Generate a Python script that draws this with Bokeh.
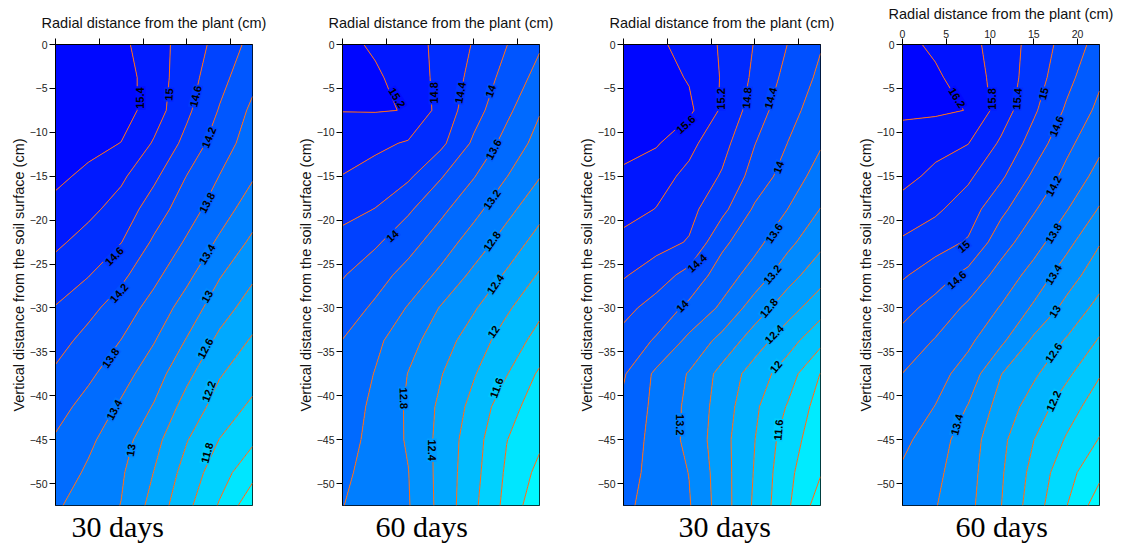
import numpy as np
from bokeh.plotting import figure
from bokeh.layouts import row
from bokeh.models import Range1d, FixedTicker, Title
from bokeh.embed import file_html
from bokeh.resources import INLINE
from bokeh.core.properties import value

# grid nodes (cm)
X_CM = [0, 3.75, 7.5, 11.25, 15, 18.75, 22.5]
Y_CM = [0, -3.75, -7.5, -11.25, -15, -18.75, -22.5, -26.25, -30, -33.75,
        -37.5, -41.25, -45, -48.75, -52.5]
X_TICKS = [0, 5, 10, 15, 20]
Y_TICKS = [0, -5, -10, -15, -20, -25, -30, -35, -40, -45, -50]

# ---- panel 1 : 30 days ----
P1_Z = [
    [15.65, 15.60, 15.49, 15.17, 14.83, 14.46, 14.08],
    [15.70, 15.66, 15.59, 15.20, 14.77, 14.33, 13.91],
    [15.70, 15.68, 15.60, 15.19, 14.68, 14.17, 13.72],
    [15.60, 15.55, 15.39, 14.96, 14.48, 13.99, 13.61],
    [15.51, 15.29, 15.07, 14.68, 14.19, 13.79, 13.44],
    [15.26, 15.10, 14.84, 14.40, 13.98, 13.59, 13.19],
    [15.08, 14.85, 14.61, 14.14, 13.75, 13.33, 12.92],
    [14.82, 14.62, 14.29, 13.90, 13.50, 13.03, 12.67],
    [14.58, 14.31, 14.01, 13.65, 13.22, 12.78, 12.41],
    [14.35, 14.07, 13.79, 13.42, 12.97, 12.50, 12.15],
    [14.14, 13.88, 13.56, 13.18, 12.70, 12.23, 11.97],
    [13.95, 13.66, 13.34, 12.97, 12.44, 12.04, 11.72],
    [13.76, 13.48, 13.16, 12.73, 12.22, 11.79, 11.47],
    [13.62, 13.34, 13.05, 12.59, 12.04, 11.57, 11.13],
    [13.45, 13.23, 12.99, 12.45, 11.90, 11.36, 10.72],
]
P1_LEVELS = [11.0, 11.4, 11.8, 12.2, 12.6, 13.0, 13.4, 13.8, 14.2, 14.6, 15.0, 15.4]
P1_LBL_X = [9.7, 12.95, 16.0, 17.5, 17.3, 17.3, 17.3, 17.1, 17.5, 17.3, 6.7, 7.25, 6.3, 6.7, 8.6]
P1_LBL_Y = [-6.1, -5.7, -5.9, -10.6, -18.0, -23.9, -28.7, -34.6, -39.5, -46.5, -24.1, -28.3, -35.7, -41.6, -46.2]
P1_LBL_V = [15.4, 15.0, 14.6, 14.2, 13.8, 13.4, 13.0, 12.6, 12.2, 11.8, 14.6, 14.2, 13.8, 13.4, 13.0]
P1_LBL_T = ["15.4", "15", "14.6", "14.2", "13.8", "13.4", "13", "12.6", "12.2", "11.8", "14.6", "14.2", "13.8", "13.4", "13"]
P1_LBL_A = [90, 86, 76, 68, 62, 58, 60, 62, 70, 75, 45, 48, 55, 62, 80]

# ---- panel 2 : 60 days ----
P2_Z = [
    [15.33, 15.13, 14.94, 14.71, 14.37, 14.01, 13.65],
    [15.45, 15.27, 15.00, 14.70, 14.27, 13.87, 13.46],
    [15.21, 15.22, 15.19, 14.65, 14.16, 13.69, 13.23],
    [14.99, 14.89, 14.76, 14.49, 13.93, 13.46, 13.06],
    [14.79, 14.64, 14.47, 14.03, 13.62, 13.21, 12.82],
    [14.53, 14.39, 14.06, 13.69, 13.32, 12.92, 12.53],
    [14.27, 14.06, 13.75, 13.40, 13.02, 12.63, 12.25],
    [14.03, 13.76, 13.46, 13.11, 12.71, 12.35, 11.96],
    [13.81, 13.53, 13.17, 12.77, 12.44, 12.06, 11.69],
    [13.59, 13.29, 12.94, 12.58, 12.20, 11.82, 11.46],
    [13.52, 13.18, 12.79, 12.42, 12.03, 11.62, 11.14],
    [13.44, 13.10, 12.75, 12.32, 11.88, 11.36, 10.99],
    [13.38, 13.06, 12.76, 12.28, 11.77, 11.21, 10.88],
    [13.28, 13.04, 12.81, 12.27, 11.73, 11.14, 10.69],
    [13.21, 13.02, 12.83, 12.28, 11.68, 11.08, 10.51],
]
P2_LEVELS = [10.8, 11.2, 11.6, 12.0, 12.4, 12.8, 13.2, 13.6, 14.0, 14.4, 14.8, 15.2]
P2_LBL_X = [6.24, 10.4, 13.45, 16.9, 17.25, 17.07, 17.07, 17.45, 17.25, 17.6, 5.7, 7.0, 10.2]
P2_LBL_Y = [-6.07, -5.5, -5.5, -5.3, -11.95, -17.65, -22.4, -27.3, -32.7, -39.1, -21.8, -40.3, -46.2]
P2_LBL_V = [15.2, 14.8, 14.4, 14.0, 13.6, 13.2, 12.8, 12.4, 12.0, 11.6, 14.0, 12.8, 12.4]
P2_LBL_T = ["15.2", "14.8", "14.4", "14", "13.6", "13.2", "12.8", "12.4", "12", "11.6", "14", "12.8", "12.4"]
P2_LBL_A = [-58, 90, 80, 70, 62, 55, 55, 55, 55, 70, 42, -88, -90]

# ---- panel 3 : 30 days ----
P3_Z = [
    [15.85, 15.69, 15.43, 15.16, 14.78, 14.395, 14.03],
    [15.85, 15.75, 15.57, 15.17, 14.72, 14.28, 13.92],
    [15.80, 15.72, 15.68, 15.14, 14.60, 14.14, 13.80],
    [15.73, 15.64, 15.30, 14.94, 14.41, 13.995, 13.64],
    [15.53, 15.34, 15.11, 14.76, 14.24, 13.82, 13.44],
    [15.33, 15.19, 14.92, 14.51, 13.94, 13.598, 13.19],
    [15.10, 14.95, 14.77, 14.09, 13.72, 13.31, 12.90],
    [14.84, 14.59, 14.27, 13.81, 13.43, 12.96, 12.56],
    [14.52, 14.24, 13.91, 13.53, 13.01, 12.57, 12.16],
    [14.26, 13.95, 13.50, 13.07, 12.59, 12.16, 11.71],
    [14.04, 13.52, 13.17, 12.67, 12.22, 11.79, 11.19],
    [13.92, 13.49, 13.11, 12.61, 12.07, 11.57, 11.02],
    [13.82, 13.47, 13.10, 12.55, 12.005, 11.39, 10.95],
    [13.75, 13.47, 13.19, 12.58, 11.97, 11.30, 10.83],
    [13.68, 13.45, 13.23, 12.60, 11.93, 11.26, 10.59],
]
P3_LEVELS = [10.8, 11.2, 11.6, 12.0, 12.4, 12.8, 13.2, 13.6, 14.0, 14.4, 14.8, 15.2, 15.6]
P3_LBL_X = [7.1, 11.1, 14.1, 16.8, 17.7, 17.2, 17.0, 16.6, 17.2, 17.4, 8.4, 6.7, 6.5, 17.7]
P3_LBL_Y = [-9.1, -6.2, -6.1, -6.1, -14.0, -21.5, -26.2, -30.0, -33.0, -36.7, -24.9, -29.8, -43.3, -43.9]
P3_LBL_V = [15.6, 15.2, 14.8, 14.4, 14.0, 13.6, 13.2, 12.8, 12.4, 12.0, 14.4, 14.0, 13.2, 11.6]
P3_LBL_T = ["15.6", "15.2", "14.8", "14.4", "14", "13.6", "13.2", "12.8", "12.4", "12", "14.4", "14", "13.2", "11.6"]
P3_LBL_A = [42, 90, 85, 75, 70, 55, 50, 50, 45, 50, 42, 45, -90, 85]

# ---- panel 4 : 60 days ----
P4_Z = [
    [16.32, 16.12, 15.91, 15.64, 15.25, 14.84, 14.45],
    [16.40, 16.27, 15.99, 15.65, 15.19, 14.72, 14.27],
    [16.26, 16.26, 16.19, 15.61, 15.06, 14.54, 14.10],
    [16.06, 15.94, 15.81, 15.34, 14.83, 14.30, 13.90],
    [15.93, 15.70, 15.47, 15.07, 14.52, 14.09, 13.66],
    [15.63, 15.47, 15.20, 14.70, 14.24, 13.82, 13.37],
    [15.35, 15.17, 14.96, 14.37, 13.96, 13.52, 13.03],
    [15.05, 14.79, 14.48, 14.05, 13.65, 13.19, 12.77],
    [14.73, 14.46, 14.12, 13.77, 13.34, 12.88, 12.47],
    [14.46, 14.17, 13.88, 13.48, 12.92, 12.56, 12.16],
    [14.195, 13.95, 13.63, 13.01, 12.66, 12.28, 11.83],
    [14.04, 13.79, 13.38, 12.84, 12.42, 11.98, 11.59],
    [13.90, 13.58, 13.20, 12.70, 12.204, 11.76, 11.38],
    [13.74, 13.49, 13.15, 12.65, 12.07, 11.54, 11.10],
    [13.65, 13.42, 13.11, 12.61, 11.99, 11.41, 10.78],
]
P4_LEVELS = [11.0, 11.4, 11.8, 12.2, 12.6, 13.0, 13.4, 13.8, 14.2, 14.6, 15.0, 15.4, 15.8, 16.2]
P4_LBL_X = [6.24, 10.2, 13.1, 16.1, 17.6, 17.25, 17.25, 17.25, 17.4, 7.0, 6.2, 17.25, 17.25, 6.2]
P4_LBL_Y = [-6.07, -6.2, -6.2, -5.6, -9.3, -16.1, -21.5, -26.2, -30.4, -23.0, -26.8, -35.1, -40.6, -43.3]
P4_LBL_V = [16.2, 15.8, 15.4, 15.0, 14.6, 14.2, 13.8, 13.4, 13.0, 15.0, 14.6, 12.6, 12.2, 13.4]
P4_LBL_T = ["16.2", "15.8", "15.4", "15", "14.6", "14.2", "13.8", "13.4", "13", "15", "14.6", "12.6", "12.2", "13.4"]
P4_LBL_A = [-58, 90, 85, 75, 68, 62, 58, 58, 58, 40, 42, 55, 65, 75]

CAPTIONS = ["30 days", "60 days", "30 days", "60 days"]

SANS = "Liberation Sans"


def color_at(v, zmin, zmax):
    frac = (zmax - v) / (zmax - zmin)
    g = int(round(255 * min(max(frac, 0), 1)))
    return "#00%02xff" % g


def band_colors(levels, zmin, zmax):
    cols = []
    for a, b in zip(levels[:-1], levels[1:]):
        mid = (max(a, zmin) + min(b, zmax)) / 2.0
        cols.append(color_at(mid, zmin, zmax))
    return cols


def make_panel(zrows, levels, lx, ly, lv_vals, lt, la, caption, cap_offset, border_right, top_labels):
    p = figure(frame_width=197, frame_height=461,
               x_range=Range1d(0, 22.5), y_range=Range1d(-52.5, 0),
               x_axis_location="above", toolbar_location=None, output_backend="svg",
               min_border_left=55, min_border_right=border_right,
               min_border_top=44, min_border_bottom=46,
               background_fill_color="white", border_fill_color="white")
    p.grid.visible = False
    p.outline_line_color = "black"
    p.outline_line_width = 1

    z = np.array(zrows, dtype=float)[::-1]
    y = np.array(Y_CM, dtype=float)[::-1]
    zmin, zmax = float(z.min()), float(z.max())
    lv = [zmin - 1.0] + list(levels) + [zmax + 1.0]
    p.contour(x=np.array(X_CM, dtype=float), y=y, z=z, levels=lv,
              fill_color=band_colors(lv, zmin, zmax),
              line_color="#ff6a10", line_width=1)

    bg = [color_at(v, zmin, zmax) for v in lv_vals]
    p.text(x=lx, y=ly, text=lt, angle=la, angle_units="deg",
           text_font=value(SANS), text_font_style="bold", text_font_size="11px",
           text_align="center", text_baseline="middle", text_color="black",
           background_fill_color=bg, padding=1)

    xa = p.xaxis[0]
    xa.ticker = FixedTicker(ticks=X_TICKS)
    xa.axis_label = "Radial distance from the plant (cm)"
    xa.axis_label_text_font = SANS
    xa.axis_label_text_font_size = "14.5px"
    xa.axis_label_text_font_style = "normal"
    xa.axis_label_text_color = "#111111"
    xa.major_tick_out = 6
    xa.major_tick_in = 0
    xa.minor_tick_line_color = None
    xa.axis_line_color = "black"
    xa.major_tick_line_color = "black"
    xa.major_label_text_font = SANS
    xa.major_label_text_font_size = "10.5px"
    xa.major_label_text_color = "#222222"
    if top_labels:
        xa.major_label_standoff = 1
        xa.axis_label_standoff = 5
    else:
        xa.major_label_overrides = {t: "" for t in X_TICKS}
        xa.major_label_standoff = 0
        xa.axis_label_standoff = 8

    ya = p.yaxis[0]
    ya.ticker = FixedTicker(ticks=Y_TICKS)
    ya.axis_label = "Vertical distance from the soil surface (cm)"
    ya.axis_label_text_font = SANS
    ya.axis_label_text_font_size = "14.5px"
    ya.axis_label_text_font_style = "normal"
    ya.axis_label_text_color = "#111111"
    ya.axis_label_standoff = 0
    ya.major_tick_out = 6
    ya.major_tick_in = 0
    ya.minor_tick_line_color = None
    ya.axis_line_color = "black"
    ya.major_tick_line_color = "black"
    ya.major_label_text_font = SANS
    ya.major_label_text_font_size = "10.5px"
    ya.major_label_text_color = "#222222"
    ya.major_label_standoff = 2

    p.add_layout(Title(text=caption, align="left", offset=cap_offset,
                       text_font="Liberation Serif", text_font_size="30px",
                       text_font_style="normal", text_color="black", standoff=4), "below")
    return p


p1 = make_panel(P1_Z, P1_LEVELS, P1_LBL_X, P1_LBL_Y, P1_LBL_V, P1_LBL_T, P1_LBL_A, CAPTIONS[0], 16, 35, False)
p2 = make_panel(P2_Z, P2_LEVELS, P2_LBL_X, P2_LBL_Y, P2_LBL_V, P2_LBL_T, P2_LBL_A, CAPTIONS[1], 33, 29, False)
p3 = make_panel(P3_Z, P3_LEVELS, P3_LBL_X, P3_LBL_Y, P3_LBL_V, P3_LBL_T, P3_LBL_A, CAPTIONS[2], 55, 27, False)
p4 = make_panel(P4_Z, P4_LEVELS, P4_LBL_X, P4_LBL_Y, P4_LBL_V, P4_LBL_T, P4_LBL_A, CAPTIONS[3], 53, 22, True)

layout = row(p1, p2, p3, p4, spacing=0)
open("out.html", "w").write(file_html(layout, INLINE))
